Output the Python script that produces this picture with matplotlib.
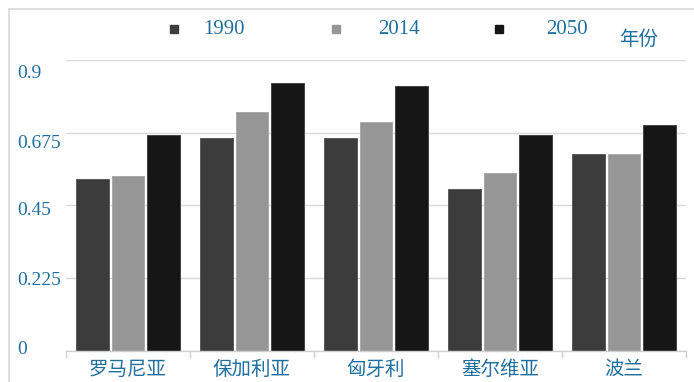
import matplotlib
matplotlib.use("Agg")
import matplotlib.pyplot as plt
from matplotlib.lines import Line2D
from matplotlib.transforms import ScaledTranslation
import numpy as np

categories = ["罗马尼亚", "保加利亚", "匈牙利", "塞尔维亚", "波兰"]
series_names = ["1990", "2014", "2050"]
v1990 = [0.532, 0.659, 0.659, 0.501, 0.609]
v2014 = [0.540, 0.738, 0.708, 0.549, 0.609]
v2050 = [0.668, 0.828, 0.820, 0.668, 0.699]
yticks = [0, 0.225, 0.45, 0.675, 0.9]
ytick_labels = ["0", "0.225", "0.45", "0.675", "0.9"]
legend_title = "年份"

colors = ["#3c3c3c", "#969696", "#161616"]
edges = ["#5a5a5a", "#a8a8a8", "#444444"]
txt = "#1f6f9f"
serif = ["Liberation Serif", "DejaVu Serif"]
cjk = ["Noto Sans CJK SC", "DejaVu Sans"]

W, H = 694, 382
fig = plt.figure(figsize=(W / 100, H / 100), dpi=100)
ax = fig.add_axes([66 / W, 1 - 351 / H, 620 / W, 291 / H])

x = np.arange(len(categories))
bw = 0.266
step = 0.29
for i, (vals, c, e) in enumerate(zip([v1990, v2014, v2050], colors, edges)):
    ax.bar(x + (i - 1) * step, vals, width=bw, color=c, edgecolor=e,
           linewidth=0.7, zorder=3, label=series_names[i])

ax.set_xlim(-0.5, len(categories) - 0.5)
ax.set_ylim(0, 0.9)
ax.set_yticks(yticks)
ax.set_yticklabels(ytick_labels)
ax.grid(axis="y", color="#d9d9d9", linewidth=1.0, zorder=0)
for s in ["left", "right", "top"]:
    ax.spines[s].set_visible(False)
ax.spines["bottom"].set_color("#d0d0d0")
ax.spines["bottom"].set_linewidth(1.0)
ax.spines["bottom"].set_zorder(4)

ax.tick_params(axis="y", length=0, labelsize=14, labelcolor=txt, pad=35)
for lab in ax.get_yticklabels():
    lab.set_fontfamily(serif)
    lab.set_horizontalalignment("left")
# small vertical shifts of y tick labels as in the reference
offsets = [-4, 0, 3.5, 9, 11.5]
for lab, off in zip(ax.get_yticklabels(), offsets):
    lab.set_transform(lab.get_transform() + ScaledTranslation(0, -off / 100, fig.dpi_scale_trans))

ax.set_xticks(x)
ax.set_xticklabels(categories, fontfamily=cjk, fontsize=14, color=txt)
ax.tick_params(axis="x", which="major", length=0, pad=6)
ax.set_xticks(np.arange(-0.5, len(categories), 1.0), minor=True)
ax.tick_params(axis="x", which="minor", length=5, color="#d0d0d0", width=1.0)

# legend (manual placement to match reference spacing)
marker_x = [173.5, 336, 499]
text_x = [203, 378, 546]
for name, c, mx, tx in zip(series_names, colors, marker_x, text_x):
    fig.add_artist(Line2D([mx / W], [1 - 29 / H], marker="s", markersize=5.4,
                          markerfacecolor=c, markeredgecolor=c, linestyle="none",
                          transform=fig.transFigure))
    fig.text(tx / W, 1 - 30 / H, name, fontfamily=serif, fontsize=15, color=txt,
             ha="left", va="center")

fig.text(619 / W, 1 - 39 / H, legend_title, fontfamily=cjk, fontsize=14,
         color=txt, ha="left", va="center")

# figure border (left and top)
fig.add_artist(Line2D([9 / W, 9 / W], [0, 1 - 9 / H], color="#d9d9d9", lw=1.2,
                      transform=fig.transFigure))
fig.add_artist(Line2D([9 / W, 1], [1 - 9 / H, 1 - 9 / H], color="#d9d9d9", lw=1.2,
                      transform=fig.transFigure))

fig.savefig("out.png", dpi=100)
